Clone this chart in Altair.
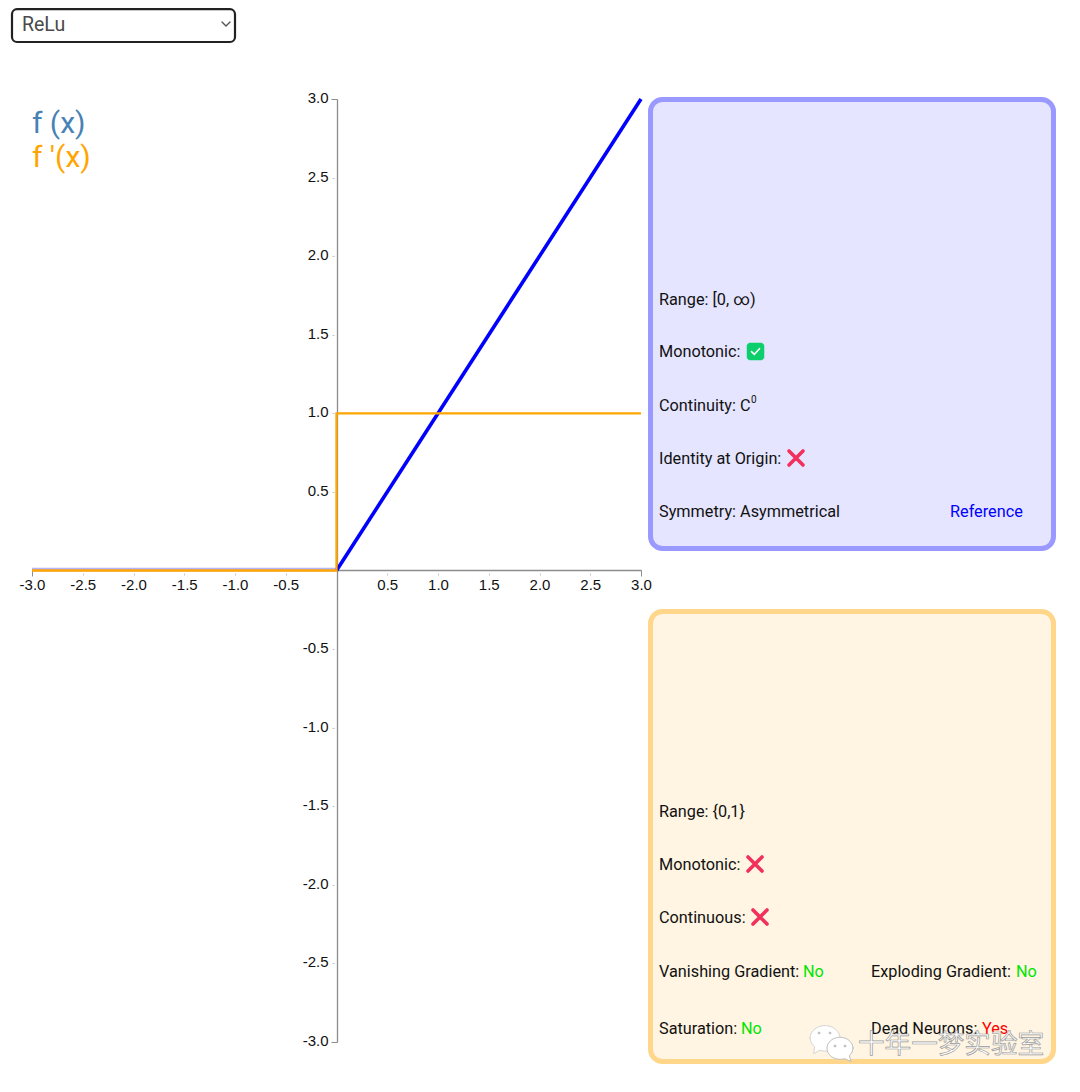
import altair as alt
import pandas as pd

f_neg_x = [-3.0, 0.0]
f_neg_y = [0.0, 0.0]
f_pos_x = [0.0, 3.0]
f_pos_y = [0.0, 3.0]
df_x = [-3.0, 0.0, 0.0, 3.0]
df_y = [0.0, 0.0, 1.0, 1.0]
ticks = [-3.0, -2.5, -2.0, -1.5, -1.0, -0.5, 0.0, 0.5, 1.0, 1.5, 2.0, 2.5, 3.0]

W, H = 1064, 1076
OFF = 8
FONT = "Roboto"
AXC = "#8c8c8c"

x_scale = alt.Scale(domain=[-3, 3], range=[32 - OFF, 641 - OFF])
y_scale = alt.Scale(domain=[-3, 3], range=[1042 - OFF, 99 - OFF])
end_test = "abs(datum.value) == 3"
lbl = "datum.value == 0 ? '' : (datum.value < 0 ? '-' : '') + format(abs(datum.value), '.1f')"


def axis(offset, pad, lab_off):
    return alt.Axis(
        values=ticks, title=None, grid=False, offset=offset, labelExpr=lbl,
        labelFont="Liberation Sans", labelFontSize=15, labelColor="#111111",
        labelPadding=pad, labelOffset=lab_off, labelOverlap=False, labelFlush=False, labelBound=False,
        domainColor=AXC, domainWidth=1.3, tickSize=6,
        tickColor={"condition": {"test": end_test, "value": AXC}, "value": "#c4c4c4"},
        tickDash={"condition": {"test": end_test, "value": [6, 0]}, "value": [0, 3, 2, 1]},
    )


base = alt.Data(values=[{"x": 0, "y": 0}])


def series(xs, ys, color, width, **kw):
    d = pd.DataFrame({"x": xs, "y": ys, "i": range(len(xs))})
    return alt.Chart(d).mark_line(color=color, strokeWidth=width, strokeCap="butt", strokeJoin="miter", **kw).encode(
        x=alt.X("x:Q", scale=x_scale, axis=axis(-(H - (570 - OFF)), 1, 0)),
        y=alt.Y("y:Q", scale=y_scale, axis=axis(-(337 - OFF), 3, -1.5)),
        order="i:Q",
    )


def box(x0, y0, x1, y1, fill, stroke, sw, r):
    return alt.Chart(base).mark_rect(fill=fill, stroke=stroke, strokeWidth=sw, cornerRadius=r).encode(
        x=alt.value(x0 - OFF), x2=alt.value(x1 - OFF),
        y=alt.value(y0 - OFF), y2=alt.value(y1 - OFF),
    )


def text(s, x, y, color="#111111", size=16.25, font=FONT, **kw):
    return alt.Chart(alt.Data(values=[{"t": s}])).mark_text(
        align="left", baseline="alphabetic", font=font, fontSize=size, color=color, **kw
    ).encode(x=alt.value(x - OFF), y=alt.value(y - OFF), text="t:N")


CROSS = "M-1,-1L1,1M1,-1L-1,1"
CHECK = "M-1,0.05L-0.3,0.7L1,-0.7"
CHEV = "M-1,-0.5L0,0.5L1,-0.5"
BUBBLE_L = "M-1,0A1,0.85,0,1,1,-0.35,0.82L-0.75,1.05L-0.7,0.58A1,0.85,0,0,1,-1,0Z"
BUBBLE_R = "M1,0A1,0.85,0,1,0,0.35,0.82L0.85,1.05L0.72,0.58A1,0.85,0,0,0,1,0Z"
DOT = "circle"


def glyph(path, x, y, color, size, sw, fill=None):
    kw = {"fill": fill} if fill else {}
    return alt.Chart(base).mark_point(shape=path, stroke=color, strokeWidth=sw, filled=bool(fill),
                                      opacity=1, strokeCap="round", **kw).encode(
        x=alt.value(x - OFF), y=alt.value(y - OFF), size=alt.value(size)
    )


RED = "#f2305e"
GREEN = "#00e600"
layers = [
    series(f_neg_x, f_neg_y, "#b4b4fa", 3, yOffset=-1.2),
    series(f_pos_x, f_pos_y, "#0000ff", 3.6),
    series(df_x, df_y, "#ffa500", 2.3),
    # dropdown
    box(12, 9.2, 235, 42, "#ffffff", "#222222", 2.2, 5),
    text("ReLu", 22, 31, "#4a4a4a", 19.5),
    glyph(CHEV, 226, 24, "#555555", 64, 1.4),
    # legend
    text("f (x)", 32, 133, "#4682b4", 30),
    text("f '(x)", 32, 167, "#ffa500", 30),
    # blue card
    box(650.5, 99.5, 1053.5, 548.5, "#e5e5ff", "#9999ff", 5, 12),
    text("Range: [0, \u221e)", 659, 305),
    text("Monotonic:", 659, 357),
    box(747, 343, 764, 360, "#0ccf6b", "#0ccf6b", 0.5, 3),
    glyph(CHECK, 755.5, 351.5, "#ffffff", 64, 1.6),
    text("Continuity: C", 659, 411),
    text("0", 751, 403, size=10),
    text("Identity at Origin:", 659, 464),
    glyph(CROSS, 796, 458, RED, 196, 3.6),
    text("Symmetry: Asymmetrical", 659, 517),
    text("Reference", 950, 517, "#0000ff"),
    # orange card
    box(650.5, 611.5, 1053.5, 1061.5, "#fff5e2", "#ffd68a", 5, 12),
    text("Range: {0,1}", 659, 817),
    text("Monotonic:", 659, 870),
    glyph(CROSS, 755, 864, RED, 196, 3.6),
    text("Continuous:", 659, 923),
    glyph(CROSS, 760, 917, RED, 196, 3.6),
    text("Vanishing Gradient:", 659, 977),
    text("No", 803, 977, GREEN),
    text("Exploding Gradient:", 871, 977),
    text("No", 1016, 977, GREEN),
    text("Saturation:", 659, 1034),
    text("No", 741, 1034, GREEN),
    text("Dead Neurons:", 871, 1034),
    text("Yes", 982, 1034, "#ff0000"),
    # watermark
    glyph(BUBBLE_L, 825, 1038, "#d4d4d4", 900, 1, "#ffffff"),
    glyph(DOT, 819, 1033, "#bbbbbb", 5, 0.5, "#bbbbbb"),
    glyph(DOT, 830, 1033, "#bbbbbb", 5, 0.5, "#bbbbbb"),
    glyph(BUBBLE_R, 840, 1048, "#bdbdbd", 676, 1, "#ffffff"),
    glyph(DOT, 835, 1046, "#bbbbbb", 5, 0.5, "#bbbbbb"),
    glyph(DOT, 845, 1046, "#bbbbbb", 5, 0.5, "#bbbbbb"),
    text("\u5341\u5e74\u4e00\u68a6\u5b9e\u9a8c\u5ba4", 858, 1053, "#ffffff", 26.6, "Noto Sans CJK SC",
         stroke="#9a9a9a", strokeWidth=0.7),
]

chart = alt.layer(*layers).resolve_scale(x="shared", y="shared").properties(
    width=W, height=H, padding=0,
    autosize=alt.AutoSizeParams(type="none"),
).configure_view(stroke=None)

chart.save("out.html", embed_options={"renderer": "svg", "actions": False})
